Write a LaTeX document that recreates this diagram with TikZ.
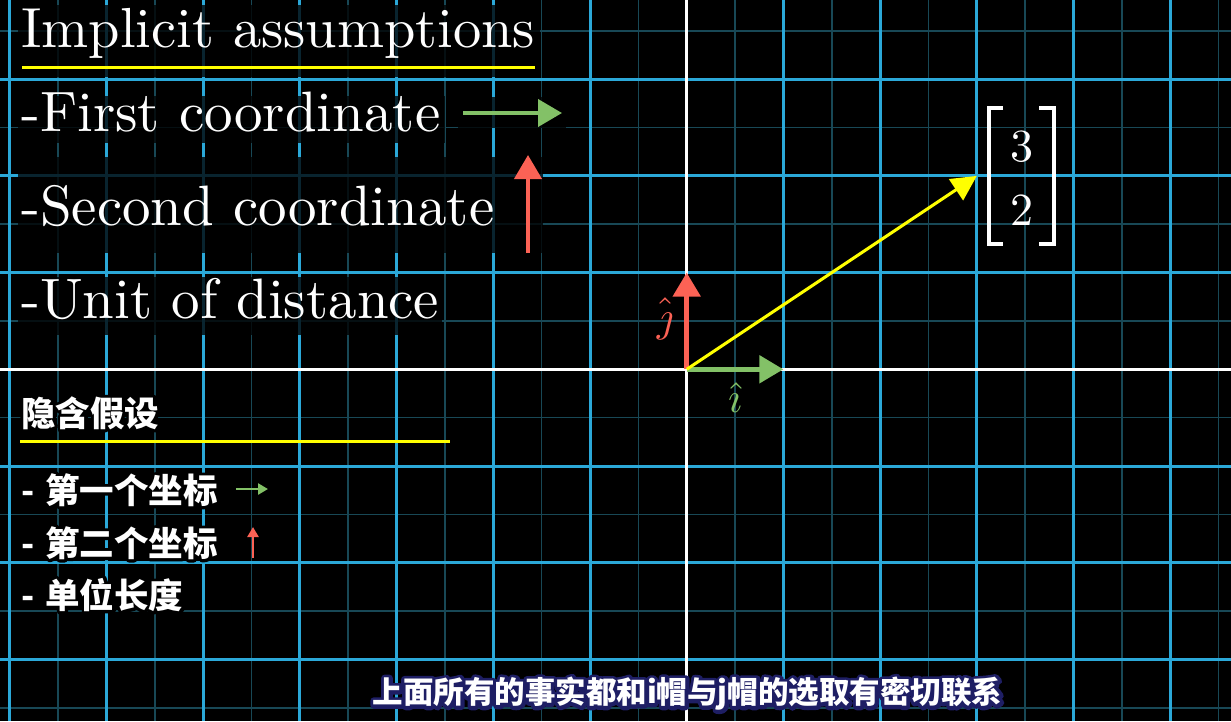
\documentclass[tikz,border=0pt]{standalone}
\usepackage{fontspec}
\usepackage{graphicx}
\newfontfamily\cjk{Noto Sans CJK SC}
\usetikzlibrary{arrows.meta}
\definecolor{gridmajor}{RGB}{43,168,216}
\definecolor{gridminor}{RGB}{24,72,86}
\definecolor{igreen}{HTML}{83C167}
\definecolor{jred}{HTML}{FC6255}
\definecolor{vyellow}{HTML}{FFFF00}
\definecolor{subnavy}{RGB}{30,30,100}
% outlined text: a stroked copy (PDF text render mode 1) under the filled text
\newcommand\strk[3]{\leavevmode\rlap{\special{pdf:literal direct 1 Tr #2 w 1 j 1 J #1 RG}#3\special{pdf:literal direct 0 Tr}}#3}
\tikzset{
  minorline/.style={gridminor, line width=1.6pt},
  majorline/.style={gridmajor, line width=3pt},
  axisline/.style={white, line width=3pt},
  dimbox/.style={fill=black, fill opacity=0.78, draw=none},
  entext/.style={anchor=base west, inner sep=0pt, text=white},
  cntext/.style={anchor=west, inner sep=0pt, text=white, font=\cjk\bfseries\fontsize{34.5}{40}\selectfont},
  bigvec/.style={line width=5pt, -{Triangle[length=24pt,width=27pt]}},
  thinvec/.style={line width=3pt, -{Triangle[length=25pt,width=25pt]}},
  smallvec/.style={line width=2.5pt, -{Triangle[length=10pt,width=11pt]}},
  uline/.style={vyellow, line width=3pt},
  bracketline/.style={white, line width=3.2pt},
  numtext/.style={inner sep=0pt, text=white}
}
\begin{document}
\begin{tikzpicture}[x=1pt,y=-1pt]
\fill[black] (0,0) rectangle (1231,721);
\useasboundingbox (0,0) rectangle (1231,721);
% grid
\foreach \k in {-13,-11,...,11} \draw[minorline] ({686.7+\k*48.35},0) -- ++(0,721);
\foreach \k in {-7,-5,...,7} \draw[minorline] (0,{369.3+\k*48.35}) -- ++(1231,0);
\foreach \k in {-14,-12,...,10} \draw[majorline] ({686.7+\k*48.35},0) -- ++(0,721);
\foreach \k in {-6,-4,...,6} \draw[majorline] (0,{369.3+\k*48.35}) -- ++(1231,0);
\draw[axisline] (686.7,0) -- (686.7,721);
\draw[axisline] (0,369.3) -- (1231,369.3);
% dimming boxes behind English text
\fill[dimbox] (18,5) rectangle (540,77);
\fill[dimbox] (18,96) rectangle (445,143);
\fill[dimbox] (458,97) rectangle (566,128);
\fill[dimbox] (18,157) rectangle (543,253);
\fill[dimbox] (18,277) rectangle (442,335);
% English text
\node[entext] (t1) at (21,47) {\resizebox{514pt}{!}{Implicit assumptions}};
\draw[uline] (22,67) -- (535,67);
\node[entext] (t2) at (21,131) {\resizebox{419pt}{!}{-First coordinate}};
\node[entext] (t3) at (21,225) {\resizebox{473pt}{!}{-Second coordinate}};
\node[entext] (t4) at (21,318) {\resizebox{418pt}{!}{-Unit of distance}};
\coordinate (ga) at (463,113);
\coordinate (gb) at (562,113);
\draw[bigvec, igreen, line width=4pt] (ga) -- (gb);
\coordinate (ra) at (528,253);
\coordinate (rb) at (528,155);
\draw[bigvec, jred, line width=4pt] (ra) -- (rb);
% Chinese text
\node[cntext] (c1) at (21,413) {\strk{0 0 0}{6}{隐含假设}};
\draw[uline] (20,441) -- (450,441);
\node[cntext] (c2) at (21,490) {\strk{0 0 0}{6}{-\hskip 11pt 第一个坐标}};
\node[cntext] (c3) at (21,543) {\strk{0 0 0}{6}{-\hskip 11pt 第二个坐标}};
\node[cntext] (c4) at (21,595) {\strk{0 0 0}{6}{-\hskip 11pt 单位长度}};
\coordinate (sga) at (236,489);
\coordinate (sgb) at (268,489);
\draw[smallvec, igreen] (sga) -- (sgb);
\coordinate (sra) at (253,558);
\coordinate (srb) at (253,527);
\draw[smallvec, jred] (sra) -- (srb);
% vectors
\coordinate (O) at (686.7,369.3);
\coordinate (I) at (783.4,369.3);
\coordinate (J) at (686.7,272.6);
\coordinate (V) at (976.8,175.9);
\draw[bigvec, jred] (O) -- (J);
\draw[bigvec, igreen] (O) -- (I);
\draw[thinvec, vyellow] (O) -- (V);
\node[text=jred, inner sep=0pt] (jl) at (665,319) {\scalebox{4.3}{$\hat{\rule{0pt}{5.3pt}\jmath}$}};
\node[text=igreen, inner sep=0pt] (il) at (735,398) {\scalebox{4.3}{$\hat{\imath}$}};
% matrix
\node[numtext] (n3) at (1022,147) {\scalebox{4.6}{3}};
\node[numtext] (n2) at (1022,210) {\scalebox{4.6}{2}};
\draw[bracketline] (1003,108) -| (989,244) -- (1003,244);
\draw[bracketline] (1039,108) -| (1054,244) -- (1039,244);
% subtitle
\node[inner sep=0pt, text=white, font=\cjk\bfseries\fontsize{30.5}{36}\selectfont] (sub) at (687.5,694) {\strk{0.118 0.118 0.392}{7}{上面所有的事实都和i帽与j帽的选取有密切联系}};
\end{tikzpicture}
\end{document}
